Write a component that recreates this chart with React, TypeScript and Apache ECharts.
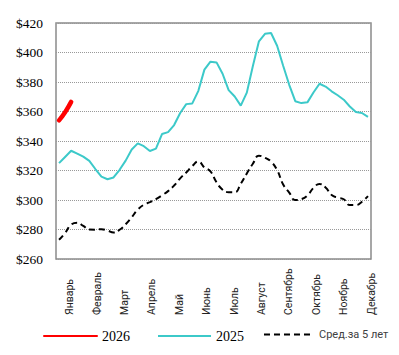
import React, { useEffect, useRef } from "react";
import * as echarts from "echarts";

const weeks: string[] = Array.from({ length: 52 }, (_, i) => String(i + 1));
const months = ["Январь", "Февраль", "Март", "Апрель", "Май", "Июнь", "Июль", "Август", "Сентябрь", "Октябрь", "Ноябрь", "Декабрь"];
const yTicks = [260, 280, 300, 320, 340, 360, 380, 400, 420];

const s2026 = [354, 359.5, 366.5];
const s2025 = [325, 329.2, 333.4, 331.5, 329.4, 326.5, 321, 315.8, 314.1, 315.3, 320.5, 326.7, 334.2, 338.4, 336.5, 333.2, 334.8, 344.7, 346, 350.8, 359, 365, 365.5, 374, 388.4, 393.8, 393.3, 385.6, 374.5, 370.2, 364, 372.8, 390.9, 407.6, 412.7, 413.2, 404.6, 391, 378.1, 367, 365.7, 366.2, 372.9, 378.8, 376.9, 373.7, 371, 368, 363.4, 359.6, 359, 356.3];
const avg5 = [273, 277.6, 283.3, 284.6, 282.4, 280, 279.9, 280.2, 279.3, 278, 279.8, 283.6, 288.3, 293.5, 296.8, 298.5, 300.6, 303.2, 306, 309.8, 314.7, 318.6, 323, 326.1, 322, 319.4, 312, 307, 305.3, 305.2, 311, 318, 324.6, 330, 328.6, 326, 320.3, 310.5, 305, 300, 300.6, 303, 308.2, 310.8, 308.5, 303.4, 301.6, 300.5, 296.6, 296.6, 298.8, 302.7];

const names = ["2026", "2025", "Сред.за 5 лет"];

export default function App() {
  const ref = useRef<HTMLDivElement>(null);
  useEffect(() => {
    if (!ref.current) return;
    const chart = echarts.init(ref.current, null, { renderer: "svg" });
    const legendBase = {
      top: 324,
      itemWidth: 53,
      itemHeight: 14,
      itemGap: 4,
      selectedMode: false,
      itemStyle: { opacity: 0 },
    };
    chart.setOption({
      animation: false,
      backgroundColor: "#fff",
      grid: {
        left: 56,
        top: 23,
        right: 28,
        bottom: 96,
        show: true,
        borderColor: "#8a8a8a",
        borderWidth: 1.5,
        backgroundColor: "transparent",
      },
      legend: [
        { ...legendBase, left: 38, data: [names[0]], textStyle: { color: "#000", fontFamily: "Liberation Serif", fontSize: 14 } },
        { ...legendBase, left: 152, data: [names[1]], textStyle: { color: "#000", fontFamily: "Liberation Serif", fontSize: 14 } },
        { ...legendBase, left: 258, itemWidth: 50, data: [names[2]], textStyle: { color: "#404040", fontFamily: "Roboto", fontSize: 11 } },
      ],
      xAxis: [
        { type: "category", data: weeks, boundaryGap: true, show: false },
        {
          type: "value",
          min: -0.5,
          max: 11,
          interval: 0.5,
          position: "bottom",
          axisLine: { show: false },
          axisTick: { show: false },
          splitLine: { show: false },
          axisLabel: {
            rotate: 90,
            align: "left",
            verticalAlign: "middle",
            margin: 56,
            fontFamily: "Roboto",
            fontSize: 10.5,
            color: "#222",
            showMinLabel: true,
            showMaxLabel: true,
            formatter: (v: number) => (Number.isInteger(v) && v >= 0 && v < 12 ? months[v] : ""),
          },
        },
      ],
      yAxis: {
        type: "value",
        min: yTicks[0],
        max: yTicks[yTicks.length - 1],
        interval: 20,
        axisLine: { show: false },
        axisTick: { show: false },
        splitLine: { show: true, lineStyle: { color: "#999", type: "dotted", width: 1 } },
        axisLabel: {
          margin: 13,
          fontFamily: "Liberation Serif",
          fontSize: 13.5,
          color: "#000",
          formatter: (v: number) => "$" + v,
        },
      },
      series: [
        {
          name: names[2],
          type: "line",
          xAxisIndex: 0,
          data: avg5,
          smooth: true,
          symbol: "none",
          lineStyle: { color: "#000", width: 2, type: [6, 4] },
          itemStyle: { color: "#000" },
        },
        {
          name: names[1],
          type: "line",
          xAxisIndex: 0,
          data: s2025,
          symbol: "none",
          lineStyle: { color: "#3cc9c9", width: 2 },
          itemStyle: { color: "#3cc9c9" },
        },
        {
          name: names[0],
          type: "line",
          xAxisIndex: 0,
          data: s2026,
          symbol: "none",
          smooth: true,
          lineStyle: { color: "#ff0000", width: 4.5, cap: "round" },
          itemStyle: { color: "#ff0000" },
        },
      ],
    });
    return () => chart.dispose();
  }, []);
  return (
    <div
      ref={ref}
      style={{ position: "fixed", left: 0, top: 0, width: 399, height: 355, background: "#fff" }}
    />
  );
}
